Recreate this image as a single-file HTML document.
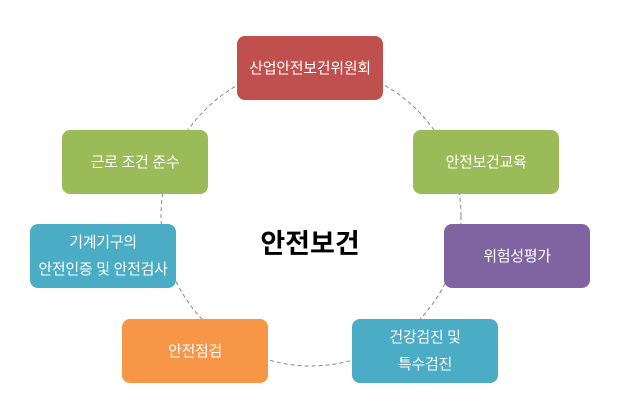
<!DOCTYPE html>
<html><head><meta charset="utf-8"><style>
body{margin:0;width:620px;height:420px;background:#fff;position:relative;overflow:hidden;font-family:"Liberation Sans","Noto Sans CJK KR",sans-serif}
.b{position:absolute;width:146px;height:64px;border-radius:8px;color:#fff;font-size:15px;display:flex;align-items:center;justify-content:center;text-align:center;line-height:27px;letter-spacing:-0.3px}
</style></head><body>
<svg width="620" height="420" style="position:absolute;left:0;top:0"><circle cx="311" cy="216" r="150" fill="none" stroke="#888" stroke-width="1" stroke-dasharray="4,3"/></svg>
<div class="b" style="left:237px;top:36px;background:#c0504d">산업안전보건위원회</div>
<div class="b" style="left:62px;top:130px;background:#9bbb59">근로 조건 준수</div>
<div class="b" style="left:413px;top:130px;background:#9bbb59">안전보건교육</div>
<div class="b" style="left:30px;top:224px;background:#4bacc6">기계기구의<br>안전인증 및 안전검사</div>
<div class="b" style="left:444px;top:224px;background:#8064a2">위험성평가</div>
<div class="b" style="left:122px;top:319px;background:#f79646">안전점검</div>
<div class="b" style="left:352px;top:319px;background:#4bacc6">건강검진 및<br>특수검진</div>
<div style="position:absolute;left:210px;top:222px;width:200px;text-align:center;font-size:27px;font-weight:bold;color:#000">안전보건</div>
</body></html>
